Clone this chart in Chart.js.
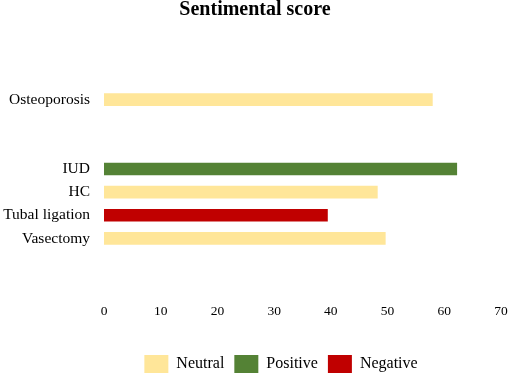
<!DOCTYPE html>
<html>
<head>
<meta charset="utf-8">
<script src="https://cdn.jsdelivr.net/npm/chart.js@4"></script>
<style>
  body { margin: 0; background: #fff; }
  #wrap { width: 510px; height: 376px; }
</style>
</head>
<body>
<div id="wrap"><canvas id="sentChart"></canvas></div>
<script>
// blank slots keep the gaps between the rows
const categories = ['', '', 'Osteoporosis', '', '', 'IUD', 'HC', 'Tubal ligation', 'Vasectomy', '', ''];
const neutralScores  = [null, null, 57.9, null, null, null, 48.2, null, 49.6, null, null];
const positiveScores = [null, null, null, null, null, 62.2, null, null, null, null, null];
const negativeScores = [null, null, null, null, null, null, null, 39.4, null, null, null];
const xMin = 0, xMax = 70, xStep = 10;

const serif = 'Liberation Serif';

// move the legend a bit lower/right like the original
const legendNudge = {
    id: 'legendNudge',
    afterLayout(chart) {
        const lg = chart.legend;
        lg.top += 7; lg.bottom += 7;
        lg.left += 26; lg.right += 26;
    }
};

const ctx = document.getElementById('sentChart').getContext('2d');
const sentChart = new Chart(ctx, {
    type: 'bar',
    data: {
        labels: categories,
        datasets: [
            { label: 'Neutral',  data: neutralScores,  backgroundColor: '#FFE699' },
            { label: 'Positive', data: positiveScores, backgroundColor: '#548235' },
            { label: 'Negative', data: negativeScores, backgroundColor: '#C00000' }
        ]
    },
    options: {
        indexAxis: 'y',
        responsive: true,
        maintainAspectRatio: false,
        animation: false,
        barThickness: 12,
        layout: { padding: { left: 0, right: 0, top: 0, bottom: 0 } },
        scales: {
            x: {
                stacked: true,
                min: xMin, max: xMax,
                grid: { display: false, drawTicks: false },
                border: { display: false },
                ticks: { stepSize: xStep, padding: 7, color: '#000', font: { family: serif, size: 13.5 } },
                afterFit: s => { s.height = 41.7; s.paddingRight = 9; }
            },
            y: {
                stacked: true,
                grid: { display: false, drawTicks: false },
                border: { display: false },
                ticks: { padding: 14, color: '#000', autoSkip: false, font: { family: serif, size: 15.5 } },
                afterFit: s => { s.width = 104; }
            }
        },
        plugins: {
            title: {
                display: true,
                text: 'Sentimental score',
                color: '#000',
                font: { family: serif, size: 20, weight: 'bold', lineHeight: 1 },
                padding: { top: 0, bottom: 21.7 }
            },
            legend: {
                position: 'bottom',
                labels: { boxWidth: 24, boxHeight: 18, padding: 10, color: '#000', font: { family: serif, size: 16 } }
            },
            tooltip: { enabled: false }
        }
    },
    plugins: [legendNudge]
});
</script>
</body>
</html>
